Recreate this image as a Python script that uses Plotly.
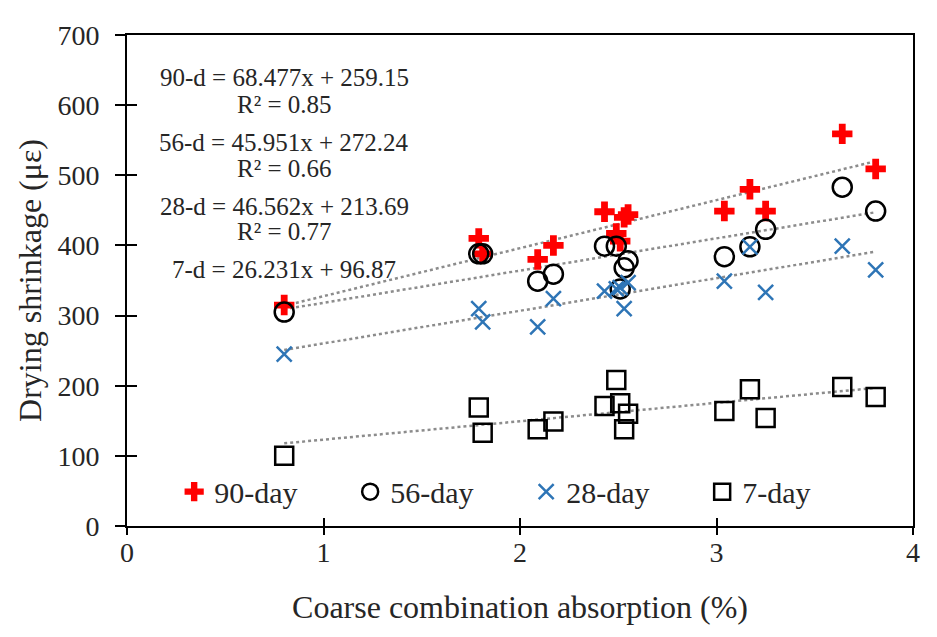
import plotly.graph_objects as go

# ---- data ----
absorption = [0.80, 1.79, 1.81, 2.09, 2.17, 2.43, 2.49, 2.51, 2.53, 2.55, 3.04, 3.17, 3.25, 3.64, 3.81]
day90 = [315, 410, 388, 380, 400, 448, 417, 406, 440, 444, 449, 480, 449, 559, 509]
day56 = [305, 388, 388, 349, 359, 399, 399, 338, 368, 378, 384, 398, 423, 483, 449]
day28 = [245, 310, 291, 284, 324, 335, 338, 340, 310, 347, 349, 398, 333, 399, 365]
day7 = [100, 169, 133, 138, 149, 171, 208, 175, 138, 160, 164, 195, 154, 198, 184]

series_names = ["90-day", "56-day", "28-day", "7-day"]
fit_slopes = [68.477, 45.951, 46.562, 26.231]
fit_intercepts = [259.15, 272.24, 213.69, 96.87]
fit_r2 = ["0.85", "0.66", "0.77", None]
fit_labels = ["90-d", "56-d", "28-d", "7-d"]

x_ticks = [0, 1, 2, 3, 4]
y_ticks = [0, 100, 200, 300, 400, 500, 600, 700]

FONT = "Liberation Serif"
TXT = "#262626"

fig = go.Figure()

styles = [
    dict(symbol="cross", size=17, color="#FF0000", line=dict(width=0)),
    dict(symbol="circle-open", size=19, color="#000000", line=dict(width=2.5, color="#000000")),
    dict(symbol="x-thin-open", size=15, color="#2E75B6", line=dict(width=2.5, color="#2E75B6")),
    dict(symbol="square-open", size=18, color="#000000", line=dict(width=2.5, color="#000000")),
]
all_series = [day90, day56, day28, day7]

# trend lines
xmin, xmax = min(absorption), max(absorption)
for m, b in zip(fit_slopes, fit_intercepts):
    fig.add_trace(go.Scatter(
        x=[xmin, xmax], y=[m * xmin + b, m * xmax + b], mode="lines",
        line=dict(color="#8C8C8C", width=2.5, dash="dot"),
        showlegend=False, hoverinfo="skip"))

for name, vals, st in zip(series_names, all_series, styles):
    fig.add_trace(go.Scatter(x=absorption, y=vals, mode="markers", name=name, marker=st))

# dummy trace for the overlay tick axes
fig.add_trace(go.Scatter(x=[], y=[], xaxis="x2", yaxis="y2", showlegend=False))

# equation annotations
eq_x = 0.80
eq_rows = [(639, f"{fit_labels[0]} = {fit_slopes[0]}x + {fit_intercepts[0]:.2f}"),
           (601, f"R² = {fit_r2[0]}"),
           (547, f"{fit_labels[1]} = {fit_slopes[1]}x + {fit_intercepts[1]:.2f}"),
           (509, f"R² = {fit_r2[1]}"),
           (456, f"{fit_labels[2]} = {fit_slopes[2]}x + {fit_intercepts[2]:.2f}"),
           (420, f"R² = {fit_r2[2]}"),
           (365, f"{fit_labels[3]} = {fit_slopes[3]}x + {fit_intercepts[3]:.2f}")]
for yy, t in eq_rows:
    fig.add_annotation(x=eq_x, y=yy, xref="x", yref="y", text=t, showarrow=False,
                       font=dict(family=FONT, size=25, color=TXT), xanchor="center", yanchor="middle")

axis_common = dict(showgrid=False, zeroline=False)
fig.update_layout(
    width=929, height=629,
    margin=dict(l=119, r=24, t=22, b=111),
    paper_bgcolor="white", plot_bgcolor="white",
    font=dict(family=FONT, color=TXT),
    xaxis=dict(range=[0, 4], tickvals=x_ticks, ticks="inside", ticklen=8, tickwidth=2,
               tickcolor="black", showline=True, linecolor="black", linewidth=2, mirror=True,
               tickfont=dict(family=FONT, size=28, color=TXT), ticklabelstandoff=0,
               title=dict(text="Coarse combination absorption (%)", font=dict(family=FONT, size=32, color=TXT),
                          standoff=29),
               **axis_common),
    yaxis=dict(range=[0, 700], tickvals=y_ticks, ticks="outside", ticklen=10, tickwidth=2,
               tickcolor="black", showline=True, linecolor="black", linewidth=2, mirror=True,
               tickfont=dict(family=FONT, size=28, color=TXT), ticklabelstandoff=10,
               title=dict(text="Drying shrinkage (με)", font=dict(family=FONT, size=32, color=TXT),
                          standoff=6),
               **axis_common),
    xaxis2=dict(range=[0, 4], tickvals=x_ticks, overlaying="x", anchor="y", side="bottom", ticks="outside",
                ticklen=8, tickwidth=2, tickcolor="black", showticklabels=False, showline=False,
                **axis_common),
    yaxis2=dict(range=[0, 700], tickvals=y_ticks, overlaying="y", anchor="x", side="left", ticks="inside",
                ticklen=10, tickwidth=2, tickcolor="black", showticklabels=False, showline=False,
                **axis_common),
    legend=dict(orientation="h", x=0.06, y=0.07, xanchor="left", yanchor="middle",
                bgcolor="rgba(0,0,0,0)", font=dict(family=FONT, size=30, color=TXT),
                entrywidth=131, entrywidthmode="pixels"),
    showlegend=True,
)

fig.write_html("out.html")
